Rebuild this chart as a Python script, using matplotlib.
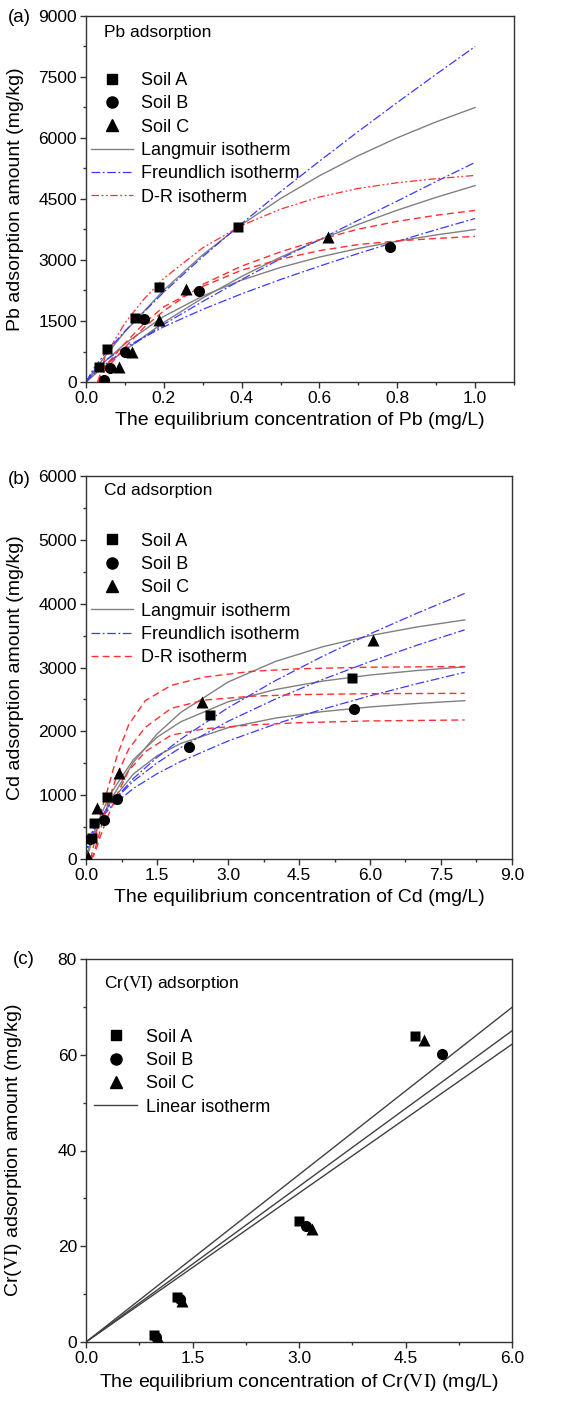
import matplotlib
matplotlib.use("Agg")
import matplotlib.pyplot as plt
from matplotlib.lines import Line2D
from matplotlib.ticker import MultipleLocator

plt.rcParams["font.family"] = ["Liberation Sans", "DejaVu Sans"]
plt.rcParams["mathtext.fontset"] = "stix"

# ---- (a) Pb: measured points ----
pb_a_x = [0.034, 0.054, 0.125, 0.188, 0.39]
pb_a_y = [380, 800, 1580, 2345, 3815]
pb_b_x = [0.045, 0.062, 0.10, 0.148, 0.291, 0.781]
pb_b_y = [50, 340, 746, 1541, 2230, 3327]
pb_c_x = [0.086, 0.117, 0.188, 0.258, 0.623]
pb_c_y = [360, 750, 1530, 2290, 3574]

# ---- (a) Pb: fitted curves ----
pb_fit_x = [0, 0.02, 0.05, 0.1, 0.2, 0.3, 0.4, 0.5, 0.6, 0.7, 0.8, 0.9, 1.0]
pb_freund_a = [0, 336, 711, 1254, 2211, 3081, 3897, 4679, 5431, 6162, 6873, 7568, 8250]
pb_freund_b = [0, 288, 534, 851, 1359, 1786, 2168, 2520, 2849, 3161, 3459, 3745, 4020]
pb_freund_c = [0, 200, 440, 790, 1420, 1980, 2520, 3030, 3500, 3980, 4450, 4930, 5400]
pb_lang_a = [0, 266, 647, 1235, 2261, 3128, 3870, 4511, 5072, 5566, 6005, 6397, 6750]
pb_lang_b = [0, 218, 514, 942, 1613, 2115, 2505, 2817, 3072, 3284, 3463, 3617, 3750]
pb_lang_c = [0, 166, 406, 784, 1466, 2066, 2597, 3070, 3494, 3877, 4225, 4541, 4830]
pb_dr_x = [0.03, 0.05, 0.1, 0.15, 0.2, 0.3, 0.4, 0.5, 0.6, 0.7, 0.8, 0.9, 1.0]
pb_dr_a = [0, 650, 1450, 2050, 2550, 3300, 3850, 4250, 4550, 4760, 4900, 5000, 5080]
pb_dr_b = [0, 400, 950, 1450, 1850, 2350, 2750, 3020, 3230, 3380, 3470, 3530, 3580]
pb_dr_c = [0, 300, 850, 1350, 1750, 2400, 2850, 3200, 3500, 3760, 3950, 4100, 4220]

# ---- (b) Cd: measured points ----
cd_a_x = [0.12, 0.16, 0.44, 2.61, 5.63]
cd_a_y = [330, 570, 975, 2260, 2830]
cd_b_x = [0.08, 0.38, 0.65, 2.18, 5.67]
cd_b_y = [310, 610, 935, 1750, 2345]
cd_c_x = [0.05, 0.24, 0.70, 2.46, 6.07]
cd_c_y = [30, 795, 1340, 2465, 3430]

# ---- (b) Cd: fitted curves ----
cd_fit_x = [0, 0.05, 0.1, 0.2, 0.5, 1, 1.5, 2, 3, 4, 5, 6, 7, 8]
cd_freund_a = [0, 256, 368, 527, 850, 1218, 1504, 1746, 2157, 2505, 2813, 3092, 3351, 3590]
cd_freund_b = [0, 272, 376, 520, 799, 1105, 1336, 1528, 1848, 2114, 2347, 2556, 2747, 2925]
cd_freund_c = [0, 226, 336, 501, 847, 1261, 1591, 1877, 2369, 2794, 3176, 3527, 3853, 4160]
cd_lang_a = [0, 136, 261, 485, 1003, 1556, 1907, 2149, 2462, 2655, 2787, 2882, 2953, 3010]
cd_lang_b = [0, 120, 231, 427, 870, 1331, 1616, 1810, 2057, 2207, 2309, 2382, 2437, 2480]
cd_lang_c = [0, 109, 212, 406, 901, 1514, 1958, 2295, 2772, 3094, 3325, 3499, 3636, 3745]
cd_dr_x = [0.1, 0.15, 0.2, 0.3, 0.45, 0.65, 0.9, 1.25, 1.8, 2.5, 3.5, 4.5, 6.0, 8.0]
cd_dr_a = [0, 60, 180, 450, 850, 1300, 1720, 2060, 2360, 2490, 2550, 2575, 2590, 2595]
cd_dr_b = [0, 40, 120, 350, 650, 1000, 1380, 1680, 1940, 2040, 2100, 2135, 2163, 2178]
cd_dr_c = [0, 170, 350, 700, 1070, 1600, 2100, 2480, 2720, 2850, 2940, 2980, 3005, 3015]

# ---- (c) Cr(VI): measured points and linear fits ----
cr_a_x = [0.96, 1.28, 3.00, 4.63]
cr_a_y = [1.5, 9.4, 25.2, 64.0]
cr_b_x = [0.99, 1.33, 3.10, 5.02]
cr_b_y = [1.0, 8.9, 24.2, 60.1]
cr_c_x = [1.02, 1.35, 3.18, 4.76]
cr_c_y = [0.9, 8.6, 23.6, 63.0]
cr_fit_x = [0, 6.0]
cr_lin_1 = [0, 69.9]
cr_lin_2 = [0, 65.0]
cr_lin_3 = [0, 62.2]

GRAY = "#808080"
BLUE = "#3a3aff"
RED = "#ff3030"
FREUND_LS = (0, (7, 2, 1.5, 2))
DR_LS_A = (0, (6, 2, 1.5, 2, 1.5, 2))
DASH_LS = (0, (5, 3))
FS = 12.5
LEG_FS = 13

W, H = 582, 1408
fig = plt.figure(figsize=(W / 100, H / 100), dpi=100)


def add_axes(left, right, top, bottom):
    return fig.add_axes([left / W, 1 - bottom / H, (right - left) / W, (bottom - top) / H])


def style(ax, xmaj, ymaj, xlim, ylim, xlabel, ylabel):
    ax.set_xlim(*xlim)
    ax.set_ylim(*ylim)
    ax.xaxis.set_major_locator(MultipleLocator(xmaj))
    ax.xaxis.set_minor_locator(MultipleLocator(xmaj / 2))
    ax.yaxis.set_major_locator(MultipleLocator(ymaj))
    ax.yaxis.set_minor_locator(MultipleLocator(ymaj / 2))
    ax.tick_params(which="both", direction="out", top=False, right=False,
                   width=1.0, color="#333333", labelsize=FS, pad=2)
    ax.tick_params(which="major", length=4.5)
    ax.tick_params(which="minor", length=2.5)
    for sp in ax.spines.values():
        sp.set_linewidth(1.0)
        sp.set_color("#333333")
    ax.set_xlabel(xlabel, fontsize=14)
    ax.set_ylabel(ylabel, fontsize=14)
    ax.yaxis.set_label_coords(-0.145, 0.5)


def scatter_soils(ax, pts, ms=7.5):
    for (x, y), m, s in zip(pts, ["s", "o", "^"], [ms, ms + 0.5, ms + 1.5]):
        ax.plot(x, y, ls="none", marker=m, markersize=s, color="black", mec="none", zorder=5)


def soil_handles(ms=7.5):
    return [Line2D([], [], ls="none", marker="s", markersize=ms, color="black"),
            Line2D([], [], ls="none", marker="o", markersize=ms + 0.5, color="black"),
            Line2D([], [], ls="none", marker="^", markersize=ms + 1.5, color="black")]


def legend(ax, handles, labels, anchor, hl=2.3):
    ax.legend(handles, labels, loc="upper left", bbox_to_anchor=anchor, frameon=False,
              fontsize=LEG_FS, handlelength=hl, handletextpad=0.45, labelspacing=0.35,
              borderpad=0, borderaxespad=0)


# ---------------- (a) Pb ----------------
ax = add_axes(86, 514, 16, 382)
for y in (pb_lang_a, pb_lang_b, pb_lang_c):
    ax.plot(pb_fit_x, y, color=GRAY, lw=1.0)
for y in (pb_freund_a, pb_freund_b, pb_freund_c):
    ax.plot(pb_fit_x, y, color=BLUE, lw=0.9, ls=FREUND_LS)
ax.plot(pb_dr_x, pb_dr_a, color=RED, lw=0.9, ls=DR_LS_A)
ax.plot(pb_dr_x, pb_dr_b, color=RED, lw=1.0, ls=DASH_LS)
ax.plot(pb_dr_x, pb_dr_c, color=RED, lw=1.0, ls=DASH_LS)
scatter_soils(ax, [(pb_a_x, pb_a_y), (pb_b_x, pb_b_y), (pb_c_x, pb_c_y)])
style(ax, 0.2, 1500, (0, 1.1), (0, 9000),
      "The equilibrium concentration of Pb (mg/L)", "Pb adsorption amount (mg/kg)")
ax.xaxis.set_major_formatter(plt.FormatStrFormatter("%.1f"))
ax.text(0.042, 0.955, "Pb adsorption", transform=ax.transAxes, fontsize=FS, va="center")
handles = soil_handles() + [
    Line2D([], [], color=GRAY, lw=1.0),
    Line2D([], [], color=BLUE, lw=0.9, ls=FREUND_LS),
    Line2D([], [], color=RED, lw=0.9, ls=DR_LS_A)]
labels = ["Soil A", "Soil B", "Soil C", "Langmuir isotherm", "Freundlich isotherm", "D-R isotherm"]
legend(ax, handles, labels, (0.012, 0.847))
fig.text(8 / W, 1 - 18 / H, "(a)", fontsize=13.5, va="center")

# ---------------- (b) Cd ----------------
ax = add_axes(86, 512, 476, 859)
for y in (cd_lang_a, cd_lang_b, cd_lang_c):
    ax.plot(cd_fit_x, y, color=GRAY, lw=1.0)
for y in (cd_freund_a, cd_freund_b, cd_freund_c):
    ax.plot(cd_fit_x, y, color=BLUE, lw=0.9, ls=FREUND_LS)
for y in (cd_dr_a, cd_dr_b, cd_dr_c):
    ax.plot(cd_dr_x, y, color=RED, lw=1.0, ls=DASH_LS)
scatter_soils(ax, [(cd_a_x, cd_a_y), (cd_b_x, cd_b_y), (cd_c_x, cd_c_y)])
style(ax, 1.5, 1000, (0, 9.0), (0, 6000),
      "The equilibrium concentration of Cd (mg/L)", "Cd adsorption amount (mg/kg)")
ax.xaxis.set_major_formatter(plt.FormatStrFormatter("%.1f"))
ax.text(0.042, 0.963, "Cd adsorption", transform=ax.transAxes, fontsize=FS, va="center")
handles = soil_handles() + [
    Line2D([], [], color=GRAY, lw=1.0),
    Line2D([], [], color=BLUE, lw=0.9, ls=FREUND_LS),
    Line2D([], [], color=RED, lw=1.0, ls=DASH_LS)]
legend(ax, handles, labels, (0.012, 0.852))
fig.text(8 / W, 1 - 479 / H, "(b)", fontsize=13.5, va="center")

# ---------------- (c) Cr(VI) ----------------
ax = add_axes(86, 512, 959, 1342)
for y in (cr_lin_1, cr_lin_2, cr_lin_3):
    ax.plot(cr_fit_x, y, color="#404040", lw=1.0)
scatter_soils(ax, [(cr_a_x, cr_a_y), (cr_b_x, cr_b_y), (cr_c_x, cr_c_y)])
style(ax, 1.5, 20, (0, 6.0), (0, 80),
      r"The equilibrium concentration of Cr($\mathrm{VI}$) (mg/L)",
      r"Cr($\mathrm{VI}$) adsorption amount (mg/kg)")
ax.xaxis.set_major_formatter(plt.FormatStrFormatter("%.1f"))
ax.text(0.042, 0.937, r"Cr($\mathrm{VI}$) adsorption", transform=ax.transAxes,
        fontsize=FS, va="center")
handles = soil_handles() + [Line2D([], [], color="#404040", lw=1.0)]
legend(ax, handles, ["Soil A", "Soil B", "Soil C", "Linear isotherm"], (0.019, 0.818), hl=2.4)
fig.text(13 / W, 1 - 960 / H, "(c)", fontsize=13.5, va="center")

fig.savefig("out.png", dpi=100)
